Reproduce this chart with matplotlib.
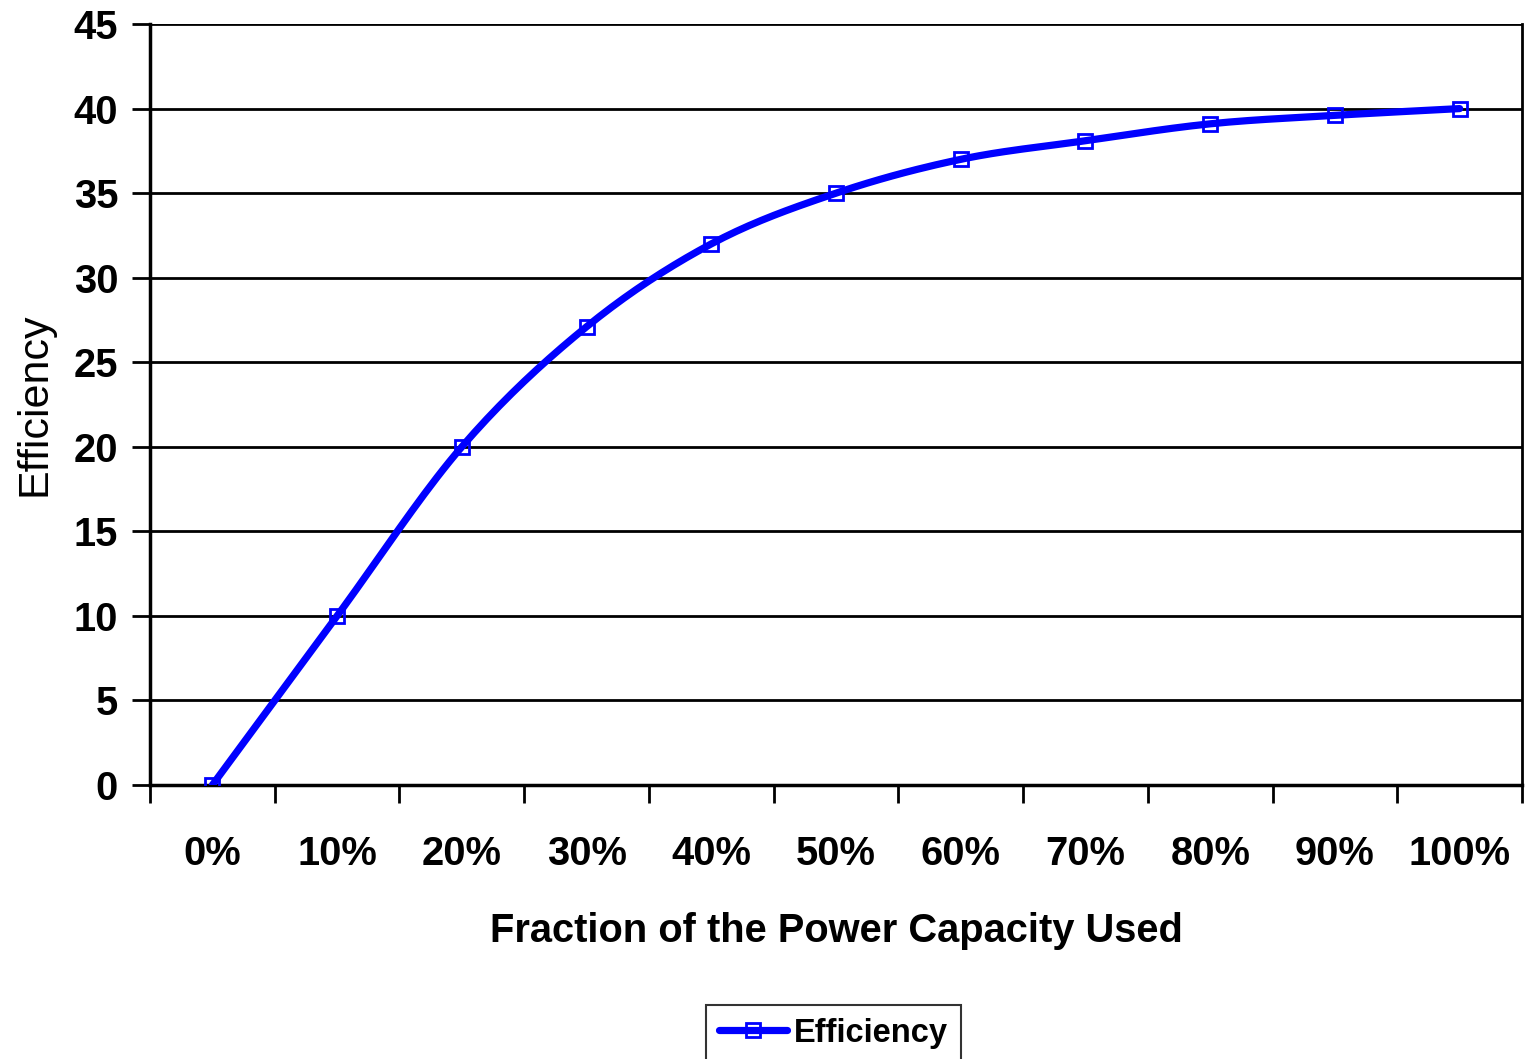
import numpy as np
import matplotlib.pyplot as plt
from matplotlib.lines import Line2D

categories = ['0%', '10%', '20%', '30%', '40%', '50%', '60%', '70%', '80%', '90%', '100%']
efficiency = [0, 10, 20, 27.1, 32.0, 35.0, 37.0, 38.1, 39.1, 39.6, 40.0]

plt.rcParams['font.family'] = ['Liberation Sans', 'DejaVu Sans']

x = np.arange(len(categories))
y = np.array(efficiency, dtype=float)


def smooth(px, py, n=20):
    # Catmull-Rom curve through the points, like the spreadsheet "smoothed line"
    P = np.column_stack([px, py]).astype(float)
    P = np.vstack([P[0], P, P[-1]])
    out = []
    t = np.linspace(0, 1, n, endpoint=False)
    for i in range(1, len(P) - 2):
        p0, p1, p2, p3 = P[i - 1], P[i], P[i + 1], P[i + 2]
        for tt in t:
            pt = 0.5 * ((2 * p1) + (-p0 + p2) * tt
                        + (2 * p0 - 5 * p1 + 4 * p2 - p3) * tt ** 2
                        + (-p0 + 3 * p1 - 3 * p2 + p3) * tt ** 3)
            out.append(pt)
    out.append(P[-2])
    out = np.array(out)
    return out[:, 0], out[:, 1]


fig = plt.figure(figsize=(15.26, 10.59), dpi=100)
ax = fig.add_axes([0.0983, 0.2587, 0.8991, 0.7186])

sx, sy = smooth(x, y)
ax.plot(sx, sy, color='#0000ff', lw=5.2, solid_capstyle='round', zorder=3)
ax.plot(x, y, ls='none', marker='s', ms=10, mfc='none', mec='#0000ff', mew=2, zorder=4)

ax.set_xlim(-0.5, len(categories) - 0.5)
ax.set_ylim(0, 45)
ax.set_yticks(np.arange(0, 46, 5))
ax.yaxis.grid(True, color='black', lw=2)
ax.set_axisbelow(True)

ax.set_xticks(x)
ax.set_xticklabels(categories, fontsize=28.7, fontweight='bold')
ax.set_xticks(np.arange(-0.5, len(categories), 1), minor=True)
ax.tick_params(axis='x', which='major', length=0, pad=36)
ax.tick_params(axis='x', which='minor', length=13, width=2, direction='out')
ax.tick_params(axis='y', length=13, width=2, labelsize=28.7, pad=10)
for lab in ax.get_yticklabels():
    lab.set_fontweight('bold')

for side in ['left', 'bottom']:
    ax.spines[side].set_linewidth(2.5)
ax.spines['right'].set_linewidth(2)
ax.spines['top'].set_visible(False)

ax.set_xlabel('Fraction of the Power Capacity Used', fontsize=28.7, fontweight='bold', labelpad=28)
ax.set_ylabel('Efficiency', fontsize=31, labelpad=14)

handle = Line2D([], [], color='#0000ff', lw=5.2, marker='s', ms=10, mfc='none',
                mec='#0000ff', mew=2, solid_capstyle='round')
leg = fig.legend([handle], ['Efficiency'], loc='lower center', bbox_to_anchor=(0.546, -0.018),
                 fancybox=False, frameon=True, edgecolor='black', handlelength=2.1,
                 handletextpad=0.2, borderpad=0.4, prop={'size': 23.5, 'weight': 'bold'})
leg.get_frame().set_linewidth(1.5)

fig.savefig('out.png', dpi=100)
